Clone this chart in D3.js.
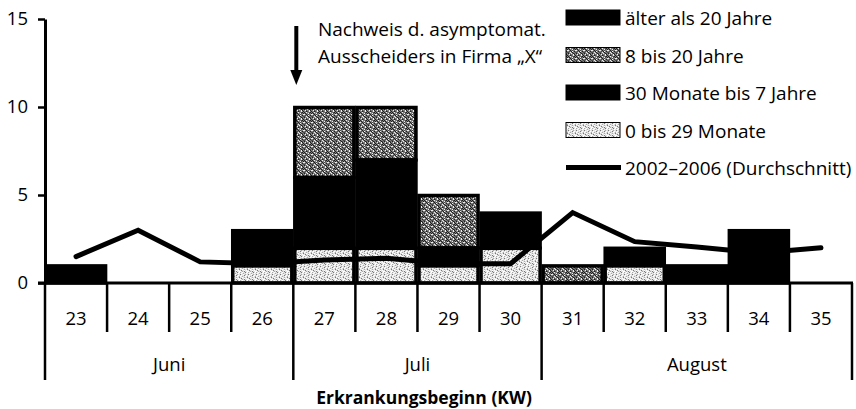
<!DOCTYPE html>
<html><head><meta charset="utf-8">
<script src="https://cdn.jsdelivr.net/npm/d3@7"></script>
<style>
body{margin:0;background:#fff}
svg{display:block}
text{font-family:"Open Sans",sans-serif;fill:#000}
</style>
</head><body>
<svg id="chart" width="856" height="409"></svg>
<script>
// ---- data ----
const weeks = ["23","24","25","26","27","28","29","30","31","32","33","34","35"];
const monthNames = ["Juni","Juli","August"];
const monthFirstWeek = ["23","27","31"];
const monthLastWeek = ["26","30","35"];
const seriesKeys = ["0 bis 29 Monate","30 Monate bis 7 Jahre","8 bis 20 Jahre","älter als 20 Jahre"];
const age0to29m  = [0,0,0,1,2,2,1,2,0,1,0,0,0];
const age30mTo7y = [1,0,0,2,4,5,1,2,0,0,0,0,0];
const age8to20y  = [0,0,0,0,4,3,3,0,1,0,0,0,0];
const ageOver20y = [0,0,0,0,0,0,0,0,0,1,1,3,0];
const avg2002to2006 = [1.5,3.0,1.2,1.1,1.3,1.4,1.1,1.1,4.0,2.35,2.05,1.7,2.0];
const yTicks = [0,5,10,15];
const legendOrder = ["älter als 20 Jahre","8 bis 20 Jahre","30 Monate bis 7 Jahre","0 bis 29 Monate"];
const lineLabel = "2002–2006 (Durchschnitt)";
const annotationLines = ["Nachweis d. asymptomat.","Ausscheiders in Firma „X“"];
const annotationWeek = "27";
const xTitle = "Erkrankungsbeginn (KW)";

// ---- setup ----
const svg = d3.select("#chart");
const x = d3.scaleBand().domain(weeks).range([45, 852]).padding(0);
const y = d3.scaleLinear().domain([0, 15]).range([283, 19]);
const bw = x.bandwidth();

// texture tiles (fixed hand-made pixel maps: . = base, d = dark, m = mid, w = white)
const defs = svg.append("defs");
function makePattern(id, colors, map) {
  const h = map.length, w = map[0].length;
  const p = defs.append("pattern").attr("id", id).attr("patternUnits", "userSpaceOnUse")
    .attr("width", w).attr("height", h);
  p.append("rect").attr("width", w).attr("height", h).attr("fill", colors["."]);
  map.forEach((row, j) => row.split("").forEach((c, i) => {
    if (c !== ".") p.append("rect").attr("x", i).attr("y", j).attr("width", 1).attr("height", 1).attr("fill", colors[c]);
  }));
}
makePattern("p820", {".": "#7c7c7c", d: "#1e1e1e", m: "#4a4a4a", w: "#f0f0f0"}, [
  "d.w..md.",
  ".d..wm.d",
  "w.d.m..w",
  ".m.dw.d.",
  "m.w.d..m",
  "d..w.dm.",
  ".wm..wd.",
  "..dm.w.d"
]);
makePattern("p029", {".": "#e2e2e2", d: "#777", m: "#aaa", w: "#fff"}, [
  "m.w..d.w",
  ".w.m..w.",
  "d..w.m..",
  ".w..d.w.",
  "w.m..w.m",
  "..w.m..d",
  ".d..w.w.",
  "w.m.d..w"
]);

const fills = {
  "0 bis 29 Monate": "url(#p029)",
  "30 Monate bis 7 Jahre": "#000",
  "8 bis 20 Jahre": "url(#p820)",
  "älter als 20 Jahre": "#000"
};

const rows = weeks.map((w, i) => ({
  week: w,
  [seriesKeys[0]]: age0to29m[i],
  [seriesKeys[1]]: age30mTo7y[i],
  [seriesKeys[2]]: age8to20y[i],
  [seriesKeys[3]]: ageOver20y[i]
}));
const stacked = d3.stack().keys(seriesKeys)(rows);

// ---- bars ----
const layers = svg.append("g").selectAll("g").data(stacked).join("g")
  .attr("fill", d => fills[d.key]);
layers.selectAll("rect").data(d => d.filter(s => s[1] > s[0])).join("rect")
  .attr("x", d => x(d.data.week) + 1.5)
  .attr("width", bw - 3)
  .attr("y", d => y(d[1]) + 0.5)
  .attr("height", d => y(d[0]) - y(d[1]) - 0.5)
  .attr("stroke", "#000").attr("stroke-width", 3.5);

// ---- average line ----
const line = d3.line().x((d, i) => x(weeks[i]) + bw / 2).y(d => y(d));
svg.append("path").datum(avg2002to2006).attr("d", line)
  .attr("fill", "none").attr("stroke", "#000").attr("stroke-width", 5)
  .attr("stroke-linecap", "round").attr("stroke-linejoin", "miter");

// ---- y axis ----
const yAxis = svg.append("g").attr("transform", "translate(45,0)")
  .call(d3.axisLeft(y).tickValues(yTicks).tickSize(7).tickPadding(10).tickSizeOuter(0));
yAxis.select(".domain").attr("stroke", "#000").attr("stroke-width", 3);
yAxis.selectAll(".tick line").attr("stroke", "#000").attr("stroke-width", 2.5);
yAxis.selectAll(".tick text").attr("font-size", 18.5).attr("font-family", "Open Sans");

// ---- x axis ----
const gx = svg.append("g");
gx.append("line").attr("x1", 38).attr("x2", x.range()[1] + 1).attr("y1", y(0)).attr("y2", y(0))
  .attr("stroke", "#000").attr("stroke-width", 3);
const boundaries = weeks.map(w => ({pos: x(w), long: monthFirstWeek.includes(w)}))
  .concat([{pos: x.range()[1], long: true}]);
gx.selectAll("line.tk").data(boundaries).join("line").attr("class", "tk")
  .attr("x1", d => d.pos).attr("x2", d => d.pos)
  .attr("y1", y(0)).attr("y2", d => d.long ? 380 : 332)
  .attr("stroke", "#000").attr("stroke-width", 2.5);
gx.selectAll("text.wk").data(weeks).join("text").attr("class", "wk")
  .attr("x", d => x(d) + bw / 2).attr("y", 325)
  .attr("text-anchor", "middle").attr("font-size", 18.5).text(d => d);
gx.selectAll("text.mo").data(monthNames).join("text").attr("class", "mo")
  .attr("x", (d, i) => (x(monthFirstWeek[i]) + x(monthLastWeek[i]) + bw) / 2).attr("y", 371)
  .attr("text-anchor", "middle").attr("font-size", 18.5).text(d => d);
svg.append("text").attr("x", 424).attr("y", 404).attr("text-anchor", "middle")
  .attr("font-size", 17.5).attr("font-weight", "bold").text(xTitle);

// ---- annotation ----
const ax = x(annotationWeek) + 3;
svg.append("line").attr("x1", ax).attr("x2", ax).attr("y1", 26).attr("y2", 72)
  .attr("stroke", "#000").attr("stroke-width", 4);
svg.append("path").attr("d", `M${ax-6},70 L${ax+6},70 L${ax},85 Z`).attr("fill", "#000");
svg.append("g").selectAll("text").data(annotationLines).join("text")
  .attr("x", 318).attr("y", (d, i) => 36 + i * 27).attr("font-size", 19).text(d => d);

// ---- legend ----
const lg = svg.append("g");
const legendRows = legendOrder.map((k, i) => ({key: k, cy: 17.5 + i * 37.5}));
lg.selectAll("rect").data(legendRows).join("rect")
  .attr("x", 566).attr("y", d => d.cy - 7.5).attr("width", 54).attr("height", 15)
  .attr("fill", d => fills[d.key]).attr("stroke", "#000").attr("stroke-width", 1);
lg.selectAll("text.lt").data(legendRows).join("text").attr("class", "lt")
  .attr("x", 625).attr("y", d => d.cy + 1).attr("dy", "0.35em").attr("font-size", 19).text(d => d.key);
const lcy = 17.5 + 4 * 37.5;
lg.append("line").attr("x1", 566).attr("x2", 621).attr("y1", lcy).attr("y2", lcy)
  .attr("stroke", "#000").attr("stroke-width", 5);
lg.append("text").attr("x", 625).attr("y", lcy + 1).attr("dy", "0.35em").attr("font-size", 19).text(lineLabel);
</script>
</body></html>
